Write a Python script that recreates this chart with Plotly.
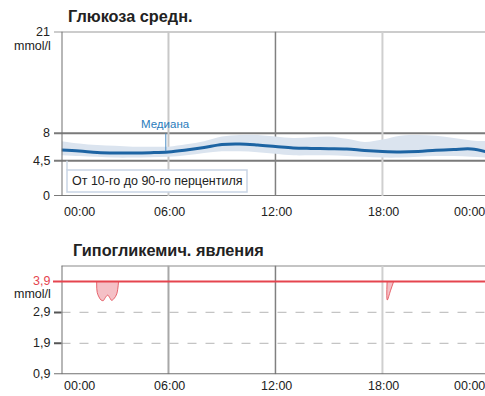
import plotly.graph_objects as go

W, H = 485, 396

# Hourly glucose profile (mmol/l)
hours = list(range(25))
median = [5.87, 5.75, 5.56, 5.49, 5.49, 5.53, 5.62, 5.87, 6.19, 6.58, 6.64, 6.51, 6.32,
          6.13, 6.07, 6.04, 6.00, 5.81, 5.68, 5.62, 5.68, 5.84, 5.94, 6.00, 5.55]
p90 = [7.0, 6.7, 6.5, 6.4, 6.3, 6.3, 6.3, 6.6, 7.0, 7.6, 7.8, 7.8, 7.6,
       7.4, 7.5, 7.6, 7.3, 6.9, 7.2, 7.7, 7.8, 7.7, 7.4, 7.1, 7.0]
p10 = [5.2, 5.1, 5.0, 4.9, 4.9, 4.95, 5.0, 5.2, 5.5, 5.7, 5.7, 5.6, 5.4,
       5.2, 5.2, 5.2, 5.1, 5.0, 4.9, 4.9, 5.0, 5.1, 5.1, 5.0, 4.9]

# Hypoglycaemic episodes below 3.9 mmol/l
hypo1_t = [1.97, 2.0, 2.1, 2.22, 2.34, 2.46, 2.59, 2.7, 2.81, 2.95, 3.1, 3.2]
hypo1_v = [3.9, 3.55, 3.4, 3.3, 3.28, 3.38, 3.46, 3.38, 3.29, 3.35, 3.5, 3.9]
hypo2_t = [18.26, 18.27, 18.45, 18.63]
hypo2_v = [3.9, 3.3, 3.6, 3.9]

# Axis ticks and labels
x_ticks = [0, 6, 12, 18, 24]
x_labels = ["00:00", "06:00", "12:00", "18:00", "00:00"]
top_ticks = [21, 8, 4.5, 0]
top_labels = ["21", "8", "4,5", "0"]
bot_ticks = [3.9, 2.9, 1.9, 0.9]
bot_labels = ["3,9", "2,9", "1,9", "0,9"]
hypo_limit = 3.9
median_label_hour = 5.85

FONT = "Liberation Sans, Arial, sans-serif"
TXT = "#222222"
BLUE = "#1d64a3"
BAND = "#dbe4ef"
RED = "#e5454f"

px_per_h = 17.83
x0_px = 61.5
x_max = (W - x0_px) / px_per_h

def px(x):
    return x / W

def py(y):
    return 1 - y / H

def hour_px(h):
    return x0_px + h * px_per_h

fig = go.Figure()

# 10-90 percentile band
fig.add_trace(go.Scatter(x=hours, y=p10, mode="lines", line=dict(width=0, shape="spline"),
                         hoverinfo="skip", showlegend=False, xaxis="x", yaxis="y"))
fig.add_trace(go.Scatter(x=hours, y=p90, mode="lines", line=dict(width=0, shape="spline"),
                         fill="tonexty", fillcolor=BAND, hoverinfo="skip",
                         showlegend=False, xaxis="x", yaxis="y"))
# median
fig.add_trace(go.Scatter(x=hours, y=median, mode="lines",
                         line=dict(color=BLUE, width=3, shape="spline"),
                         showlegend=False, xaxis="x", yaxis="y"))

# hypo episodes
for t, v in [(hypo1_t, hypo1_v), (hypo2_t, hypo2_v)]:
    fig.add_trace(go.Scatter(x=t, y=v, mode="lines", fill="toself",
                             fillcolor="rgba(236,140,152,0.55)",
                             line=dict(color="rgba(225,70,80,0.8)", width=1, shape="spline"),
                             showlegend=False, xaxis="x2", yaxis="y2"))

shapes = []
grid_col = {6: "#c8c8c8", 12: "#808080", 18: "#cfcfcf"}
grid_w = {6: 2, 12: 1.5, 18: 2}
grid_col2 = {6: "#a8a8a8", 12: "#808080", 18: "#cfcfcf"}

# top panel: vertical grid
for h in x_ticks[1:-1]:
    shapes.append(dict(type="line", xref="x", yref="y", x0=h, x1=h, y0=0, y1=21,
                       line=dict(color=grid_col[h], width=grid_w[h]), layer="below"))
# top panel: horizontal lines with tick stubs
for v in top_ticks:
    col = "#9a9a9a" if v == 21 else "#7a7a7a"
    shapes.append(dict(type="line", xref="paper", yref="y", x0=px(54), x1=1, y0=v, y1=v,
                       line=dict(color=col, width=2), layer="below"))
# top panel: left axis
shapes.append(dict(type="line", xref="x", yref="y", x0=0, x1=0, y0=-0.4, y1=21,
                   line=dict(color="#707070", width=2)))

# bottom panel: vertical grid
for h in x_ticks[1:-1]:
    shapes.append(dict(type="line", xref="x2", yref="y2", x0=h, x1=h, y0=0.9, y1=4.417,
                       line=dict(color=grid_col2[h], width=grid_w[h]), layer="below"))
# bottom panel: top border
shapes.append(dict(type="line", xref="paper", yref="y2", x0=px(x0_px), x1=1, y0=4.417, y1=4.417,
                   line=dict(color="#8a8a8a", width=2), layer="below"))
# dashed reference lines
for v in bot_ticks[1:3]:
    shapes.append(dict(type="line", xref="paper", yref="y2", x0=px(x0_px), x1=1, y0=v, y1=v,
                       line=dict(color="#c4c4c4", width=1.2, dash="dash"), layer="below"))
    shapes.append(dict(type="line", xref="paper", yref="y2", x0=px(54), x1=px(x0_px), y0=v, y1=v,
                       line=dict(color="#555555", width=2)))
# bottom axis
shapes.append(dict(type="line", xref="paper", yref="y2", x0=px(54), x1=1, y0=0.9, y1=0.9,
                   line=dict(color="#707070", width=2)))
shapes.append(dict(type="line", xref="x2", yref="y2", x0=0, x1=0, y0=0.9, y1=4.417,
                   line=dict(color="#707070", width=2)))
# hypo threshold
shapes.append(dict(type="line", xref="paper", yref="y2", x0=px(53), x1=1,
                   y0=hypo_limit, y1=hypo_limit, line=dict(color=RED, width=2.2)))

# median callout connector
shapes.append(dict(type="line", xref="x", yref="y", x0=median_label_hour, x1=median_label_hour,
                   y0=8, y1=median[6] + 0.1, line=dict(color="#4a8cc4", width=1)))
# percentile legend box and connector
shapes.append(dict(type="line", xref="paper", yref="y", x0=px(67), x1=px(67), y0=4.5, y1=3.3,
                   line=dict(color="#cdd8e6", width=1.5)))
shapes.append(dict(type="rect", xref="paper", yref="paper", x0=px(67), x1=px(247),
                   y0=py(192), y1=py(170), fillcolor="white",
                   line=dict(color="#c9d5e5", width=1.5)))

annotations = []
tick_font = dict(family=FONT, size=12.5, color=TXT)

# x tick labels for both panels (end labels kept inside the page)
for ypx in (212, 386):
    for h, lab in zip(x_ticks, x_labels):
        if h == 0:
            anc, xpos = "left", hour_px(h)
        elif h == x_ticks[-1]:
            anc, xpos = "right", min(hour_px(h), W) + 2
        else:
            anc, xpos = "center", hour_px(h) + 1.5
        annotations.append(dict(x=px(xpos), y=py(ypx), xref="paper", yref="paper", text=lab,
                                showarrow=False, xanchor=anc, yanchor="middle",
                                font=tick_font))

# y tick labels
for v, lab in zip(top_ticks, top_labels):
    annotations.append(dict(x=px(52), y=v, xref="paper", yref="y", text=lab, showarrow=False,
                            xanchor="right", yanchor="middle", font=tick_font))
annotations.append(dict(x=px(53), y=21, xref="paper", yref="y", text="mmol/l", showarrow=False,
                        xanchor="right", yanchor="middle", yshift=-14, font=tick_font))
for v, lab in zip(bot_ticks, bot_labels):
    f = dict(tick_font)
    if v == hypo_limit:
        f["color"] = RED
    annotations.append(dict(x=px(52), y=v, xref="paper", yref="y2", text=lab, showarrow=False,
                            xanchor="right", yanchor="middle", font=f))
annotations.append(dict(x=px(53), y=hypo_limit, xref="paper", yref="y2", text="mmol/l",
                        showarrow=False, xanchor="right", yanchor="middle", yshift=-13,
                        font=tick_font))

# panel titles
title_font = dict(family=FONT, size=16.3, color=TXT)
annotations.append(dict(x=px(66), y=py(16), xref="paper", yref="paper",
                        text="<b>Глюкоза средн.</b>", showarrow=False,
                        xanchor="left", yanchor="middle", font=title_font))
annotations.append(dict(x=px(71), y=py(250), xref="paper", yref="paper",
                        text="<b>Гипогликемич. явления</b>", showarrow=False,
                        xanchor="left", yanchor="middle", font=title_font))

# callouts
annotations.append(dict(x=median_label_hour, y=8, xref="x", yref="y", text="Медиана",
                        showarrow=False, xanchor="center", yanchor="bottom", yshift=1,
                        font=dict(family=FONT, size=11.5, color="#2a7cbc")))
annotations.append(dict(x=px(157), y=py(181), xref="paper", yref="paper",
                        text="От 10-го до 90-го перцентиля", showarrow=False,
                        xanchor="center", yanchor="middle", font=tick_font))

fig.update_layout(
    width=W, height=H,
    margin=dict(l=0, r=0, t=0, b=0),
    paper_bgcolor="white", plot_bgcolor="white",
    shapes=shapes, annotations=annotations,
    xaxis=dict(domain=[px(x0_px), 1], range=[0, x_max], visible=False, anchor="y"),
    yaxis=dict(domain=[py(196), py(31.5)], range=[0, 21], visible=False, anchor="x"),
    xaxis2=dict(domain=[px(x0_px), 1], range=[0, x_max], visible=False, anchor="y2"),
    yaxis2=dict(domain=[py(374.3), py(265.5)], range=[0.9, 4.417], visible=False, anchor="x2"),
)

fig.write_html("out.html")
